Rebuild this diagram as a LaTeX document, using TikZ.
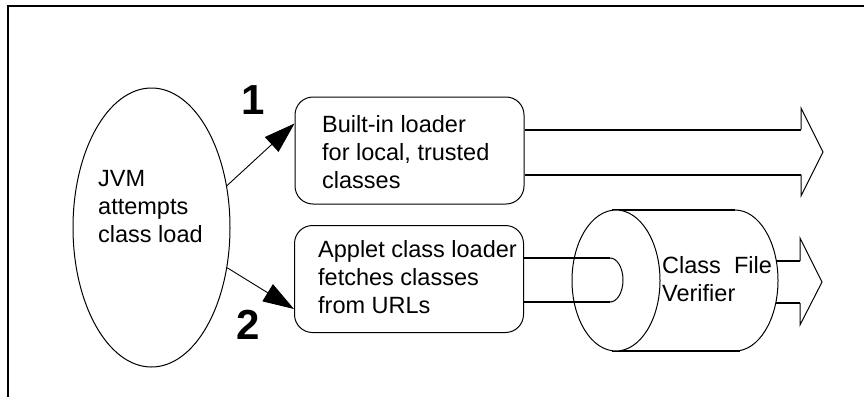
\documentclass[tikz,border=0pt]{standalone}
\usepackage{fontspec}
\setmainfont{Liberation Sans}
\usetikzlibrary{arrows.meta,shapes.geometric}

\tikzset{
  lbl/.style={font=\fontsize{23.5}{28}\selectfont, inner sep=0pt, align=left},
  num/.style={font=\fontsize{42}{42}\selectfont\bfseries, inner sep=0pt},
  roundbox/.style={draw, line width=1pt, rounded corners=18pt,
                   minimum width=229pt, minimum height=107pt, inner sep=0pt},
  oval/.style={draw, ellipse, line width=1pt, minimum width=157pt,
               minimum height=279pt, inner sep=0pt},
  link/.style={line width=0.9pt, -{Triangle[length=31pt,width=20pt]}},
  heavy/.style={line width=2pt},
  thin/.style={line width=1pt},
}

\begin{document}
\begin{tikzpicture}[x=1pt,y=-1pt]
  \useasboundingbox (0,0) rectangle (864,397);
  \fill[white] (0,0) rectangle (864,397);

  % partial frame: top and left edges only
  \draw[line width=1.3pt] (8,397) -- (8,6) -- (864,6);

  % JVM ellipse and label
  \node[oval] (jvm) at (151.5,227.5) {};
  \node[lbl, anchor=north west] (jvmtxt) at (98,170) {JVM\\attempts\\class load};

  % loader boxes
  \node[roundbox] (b1) at (409.5,150.5) {};
  \node[lbl, anchor=north west] (b1txt) at (322,115) {Built-in loader\\for local, trusted\\classes};
  \node[roundbox] (b2) at (409,279) {};
  \node[lbl, anchor=north west] (b2txt) at (318,240) {Applet class loader\\fetches classes\\from URLs};

  % numbered connectors
  \draw[link] (jvm.29) -- ([yshift=27pt]b1.west);
  \draw[link] (jvm.-28) -- ([yshift=-30pt]b2.west);
  \node[num, anchor=south west] (n1) at (241,115) {1};
  \node[num, anchor=south west] (n2) at (236,340) {2};

  % wide block arrow out of the built-in loader
  \coordinate (a1) at ([yshift=21pt]b1.east);
  \coordinate (a2) at ([yshift=-24pt]b1.east);
  \draw[heavy] (a1) -- (801,129.5);
  \draw[heavy] (a2) -- (801,174.5);
  \draw[thin, line join=miter] (801,129.5) -- (801,108) -- (823,152) -- (801,196) -- (801,174.5);

  % class file verifier drum: back rim, top and bottom edges, front face
  \draw[thin, fill=white] (735,210) arc[start angle=-90, end angle=90, x radius=43, y radius=70.5];
  \draw[heavy] (612,210) -- (735,210);
  \draw[heavy] (612,351) -- (740,351);
  \fill[white] (616,280.5) ellipse[x radius=44pt, y radius=70.5pt];

  % pipe from the applet loader into the drum
  \coordinate (p1) at ([yshift=21pt]b2.east);
  \coordinate (p2) at ([yshift=-23pt]b2.east);
  \draw[heavy] (p1) -- (610,258);
  \draw[heavy] (p2) -- (610,302);
  \draw[thin] (610,258) arc[start angle=-90, end angle=90, x radius=13, y radius=22];

  % outline of the front face, drawn over the pipe
  \draw[thin] (616,280.5) ellipse[x radius=44pt, y radius=70.5pt];

  \node[lbl, anchor=north west] (cfv) at (662,256) {Class\ \ File\\Verifier};

  % narrow block arrow out of the drum
  \draw[heavy] (776,261) -- (800,261);
  \draw[heavy] (776,303) -- (800,303);
  \draw[thin, line join=miter] (800,261) -- (800,238) -- (822,282) -- (800,325) -- (800,303);
\end{tikzpicture}
\end{document}
